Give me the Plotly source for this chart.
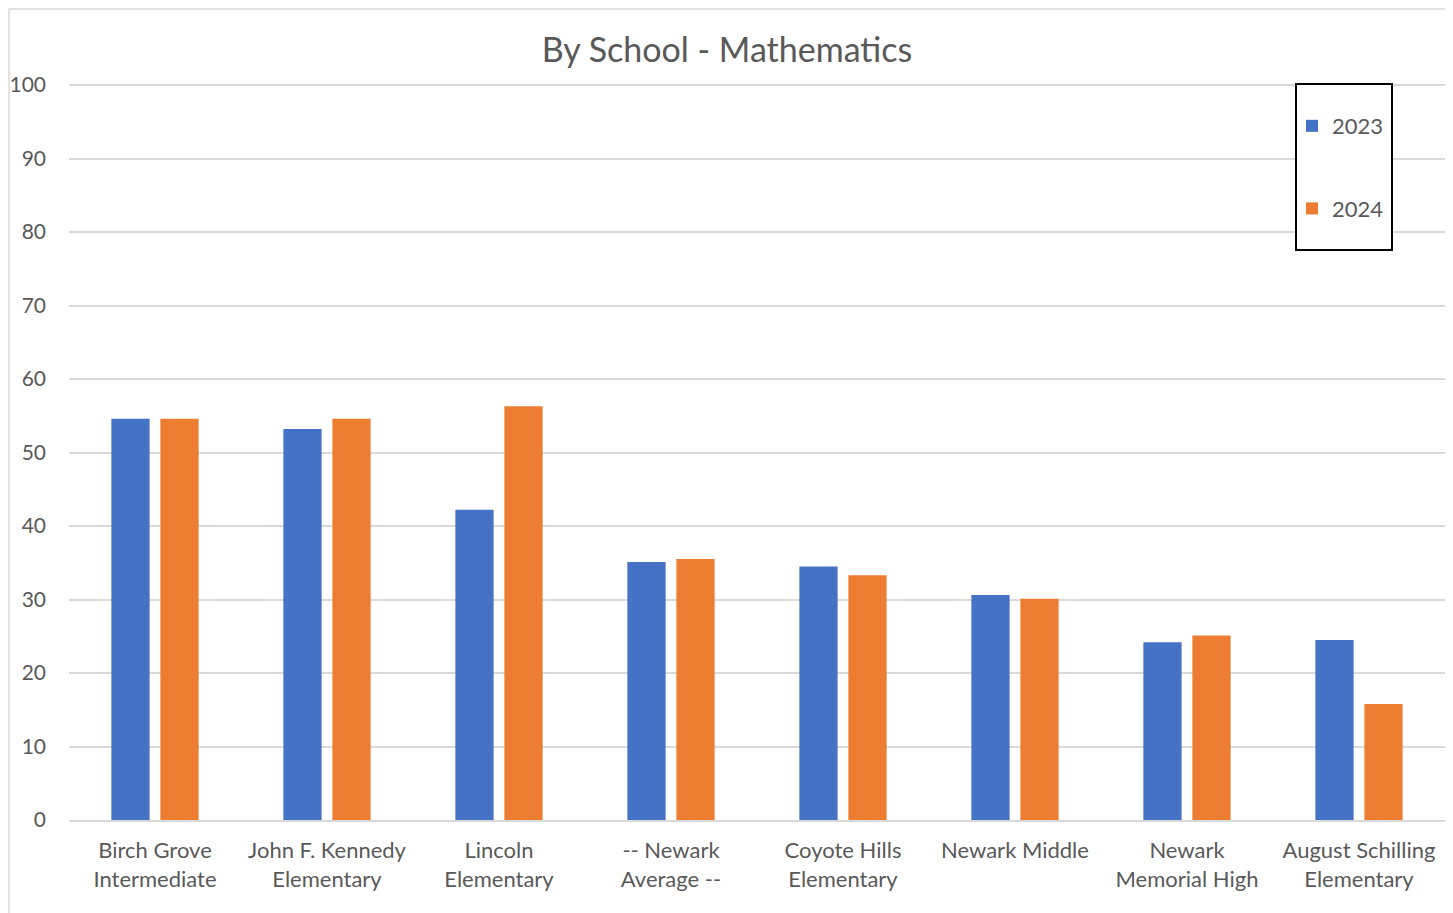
import plotly.graph_objects as go

categories = ["Birch Grove<br>Intermediate", "John F. Kennedy<br>Elementary", "Lincoln<br>Elementary",
              "-- Newark<br>Average --", "Coyote Hills<br>Elementary", "Newark Middle",
              "Newark<br>Memorial High", "August Schilling<br>Elementary"]
values_2023 = [54.6, 53.2, 42.2, 35.1, 34.5, 30.6, 24.2, 24.5]
values_2024 = [54.6, 54.6, 56.3, 35.5, 33.3, 30.1, 25.1, 15.8]
y_ticks = [0, 10, 20, 30, 40, 50, 60, 70, 80, 90, 100]

OFF = 8  # page body margin
PW, PH = 1453, 913
W, H = PW - OFF, PH - OFF
# plot area in page pixels: x 69..1445, y 84..820
L, T = 69 - OFF, 84 - OFF
R = PW - 1445
B = PH - 820
pw, ph = W - L - R, H - T - B

def px_x(x):
    return (x - OFF - L) / pw

def px_y(y):
    return (H - B - (y - OFF)) / ph

FONT = "Lato"
GREY = "#595959"

fig = go.Figure()
fig.add_trace(go.Bar(name="2023", x=categories, y=values_2023, marker_color="#4472C4",
                     marker_line_width=0, legendgroup="a"))
fig.add_trace(go.Bar(name="2024", x=categories, y=values_2024, marker_color="#ED7D31",
                     marker_line_width=0, legendgroup="b"))

fig.update_layout(
    width=W, height=H,
    margin=dict(l=L, r=R, t=T, b=B),
    paper_bgcolor="white", plot_bgcolor="white",
    barmode="group", bargap=0.43, bargroupgap=0.22,
    font=dict(family=FONT, size=22, color=GREY),
    title=dict(text="By School - Mathematics", x=(727 - OFF) / W, xref="container", xanchor="center",
               y=1 - (50 - OFF) / H, yref="container", yanchor="middle",
               font=dict(family=FONT, size=34, color=GREY)),
    showlegend=True,
    legend=dict(x=px_x(1292), y=px_y(105), xanchor="left", yanchor="top",
                bgcolor="rgba(0,0,0,0)", borderwidth=0, tracegroupgap=51,
                font=dict(family=FONT, size=22, color=GREY), traceorder="grouped"),
    xaxis=dict(showgrid=False, showline=True, linecolor="#d9d9d9", linewidth=1.5,
               ticks="", ticklabelstandoff=10, automargin=False,
               tickfont=dict(family=FONT, size=22, color=GREY)),
    yaxis=dict(range=[0, 100.15], tickvals=y_ticks, showgrid=True, gridcolor="#d9d9d9",
               gridwidth=1.5, zeroline=False, showline=False, ticks="", automargin=False,
               ticklabelstandoff=22, tickfont=dict(family=FONT, size=21, color=GREY)),
    shapes=[
        dict(type="rect", xref="paper", yref="paper", x0=px_x(9), x1=px_x(1447),
             y0=px_y(930), y1=px_y(9), line=dict(color="#d9d9d9", width=1.5), layer="below"),
        dict(type="rect", xref="paper", yref="paper", x0=px_x(1296), x1=px_x(1392),
             y0=px_y(250), y1=px_y(84), line=dict(color="black", width=2),
             fillcolor="white", layer="above"),
    ],
)

fig.write_html("out.html")
